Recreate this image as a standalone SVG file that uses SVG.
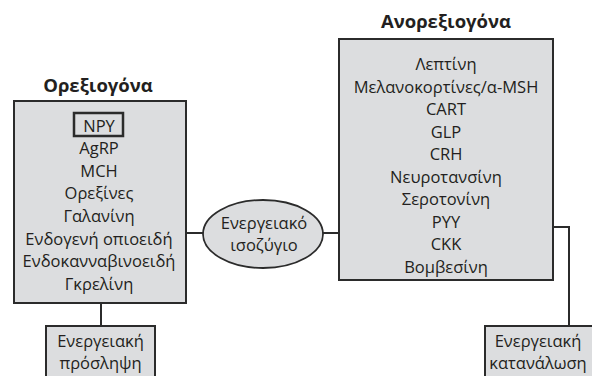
<svg xmlns="http://www.w3.org/2000/svg" width="592" height="376" viewBox="0 0 592 376">
<style>
.box{fill:#dcdddf;stroke:#2b2b2b;stroke-width:2}
.t{font-family:"Open Sans","Noto Sans",sans-serif;font-size:16.5px;fill:#231f20;text-anchor:middle}
.h{font-family:"Open Sans","Noto Sans",sans-serif;font-size:18.5px;font-weight:bold;fill:#231f20;text-anchor:middle}
.c{fill:none;stroke:#2b2b2b;stroke-width:2}
</style>
<rect width="592" height="376" fill="#fff"/>
<g id="connectors">
<line class="c" x1="186" y1="233" x2="203" y2="233"/>
<line class="c" x1="323" y1="233" x2="339" y2="233"/>
<line class="c" x1="101" y1="303" x2="101" y2="326"/>
<polyline class="c" points="553,227 569,227 569,326"/>
</g>
<g id="orexigona">
<text class="h" x="98" y="92">Ορεξιογόνα</text>
<rect class="box" x="14" y="101" width="172" height="202"/>
<rect x="74" y="113" width="49" height="23" fill="none" stroke="#2b2b2b" stroke-width="2.5"/>
<text class="t" x="99" y="131.5">NPY</text>
<text class="t" x="99" y="154">AgRP</text>
<text class="t" x="99" y="176.5">MCH</text>
<text class="t" x="99" y="199">Ορεξίνες</text>
<text class="t" x="99" y="222">Γαλανίνη</text>
<text class="t" x="99" y="244.5">Ενδογενή οπιοειδή</text>
<text class="t" x="99" y="267">Ενδοκανναβινοειδή</text>
<text class="t" x="99" y="289.5">Γκρελίνη</text>
</g>
<g id="anorexigona">
<text class="h" x="446" y="28">Ανορεξιογόνα</text>
<rect class="box" x="339" y="39" width="214" height="241"/>
<text class="t" x="446" y="70">Λεπτίνη</text>
<text class="t" x="446" y="92.5">Μελανοκορτίνες/α-MSH</text>
<text class="t" x="446" y="115">CART</text>
<text class="t" x="446" y="137.5">GLP</text>
<text class="t" x="446" y="160">CRH</text>
<text class="t" x="446" y="182.5">Νευροτανσίνη</text>
<text class="t" x="446" y="205">Σεροτονίνη</text>
<text class="t" x="446" y="227.5">PYY</text>
<text class="t" x="446" y="250">CKK</text>
<text class="t" x="446" y="272.5">Βομβεσίνη</text>
</g>
<g id="balance">
<ellipse cx="263" cy="234" rx="60" ry="34" fill="#dcdddf" stroke="#2b2b2b" stroke-width="1.8"/>
<text class="t" x="264" y="229">Ενεργειακό</text>
<text class="t" x="264" y="251">ισοζύγιο</text>
</g>
<g id="intake">
<rect class="box" x="46" y="326" width="109" height="60"/>
<text class="t" x="100.5" y="347">Ενεργειακή</text>
<text class="t" x="100.5" y="369">πρόσληψη</text>
</g>
<g id="expenditure">
<rect class="box" x="485" y="326" width="108" height="60"/>
<text class="t" x="538" y="347">Ενεργειακή</text>
<text class="t" x="538" y="369">κατανάλωση</text>
</g>
</svg>
